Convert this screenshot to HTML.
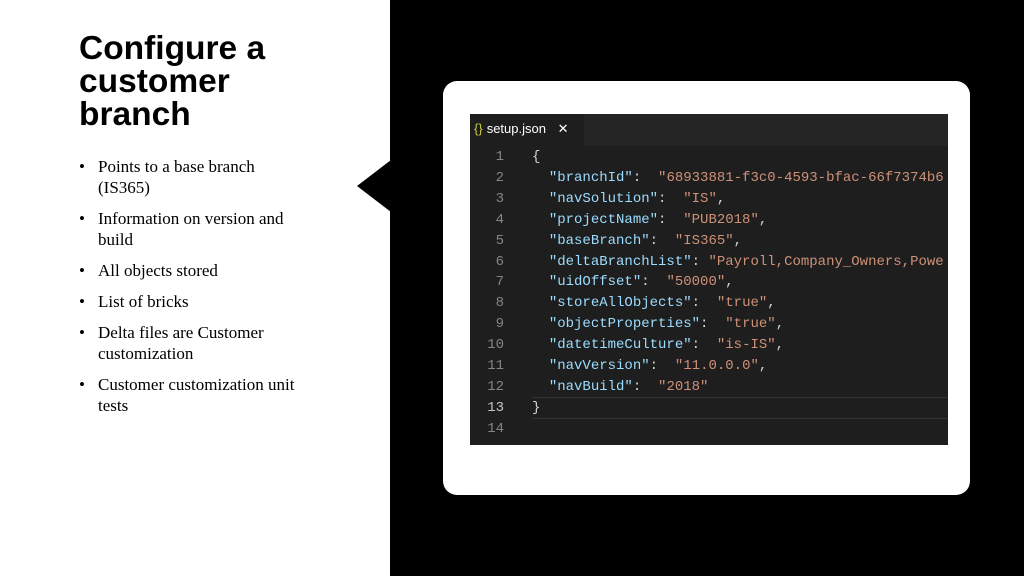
<!DOCTYPE html>
<html><head><meta charset="utf-8"><style>
body{margin:0;width:1024px;height:576px;overflow:hidden;background:#fff;position:relative;font-family:"Liberation Sans",sans-serif}
.black{position:absolute;left:390px;top:0;width:634px;height:576px;background:#000}
.notch{position:absolute;left:357px;top:160px;width:0;height:0;border-top:26px solid transparent;border-bottom:26px solid transparent;border-right:34px solid #000}
h1{position:absolute;left:79px;top:32px;margin:0;font-size:33.5px;line-height:33px;font-weight:bold;color:#000}
ul{position:absolute;left:79px;top:156px;margin:0;padding:0;list-style:none;font-family:"Liberation Serif",serif;font-size:17px;line-height:21px;width:224px}
li{position:relative;padding-left:19px;margin-bottom:10px}
li:before{content:"•";position:absolute;left:0}
.panel{position:absolute;left:443px;top:81px;width:527px;height:414px;background:#fff;border-radius:14px}
.ed{position:absolute;left:470px;top:114px;width:478px;height:331px;background:#1e1e1e;overflow:hidden}
.tabbar{position:absolute;left:0;top:0;width:478px;height:32px;background:#252526}
.tab{position:absolute;left:0;top:0;width:114px;height:32px;background:#1e1e1e;color:#fff;font-size:13px;line-height:30px}
.code{position:absolute;left:0;top:33px;font-family:"Liberation Mono",monospace;font-size:14px;line-height:20.9px;white-space:pre;color:#d4d4d4}
.ln{display:inline-block;width:34px;text-align:right;color:#858585;margin-right:28px}
.k{color:#9cdcfe}.v{color:#ce9178}
.cur{position:absolute;left:62px;top:283px;width:416px;height:20px;border-top:1px solid #333;border-bottom:1px solid #333}
</style></head><body>
<div class="black"></div><div class="notch"></div>
<h1>Configure a<br>customer<br>branch</h1>
<ul>
<li>Points to a base branch (IS365)</li>
<li>Information on version and build</li>
<li>All objects stored</li>
<li>List of bricks</li>
<li>Delta files are Customer customization</li>
<li>Customer customization unit tests</li>
</ul>
<div class="panel"></div>
<div class="ed">
<div class="tabbar"><div class="tab"><span style="color:#cbcb41;margin:0 4px 0 4px">{}</span>setup.json <span style="margin-left:8px">✕</span></div></div>
<div class="cur"></div>
<div class="code"><span class="ln">1</span>{
<span class="ln">2</span>  <span class="k">"branchId"</span>:  <span class="v">"68933881-f3c0-4593-bfac-66f7374b6</span>
<span class="ln">3</span>  <span class="k">"navSolution"</span>:  <span class="v">"IS"</span>,
<span class="ln">4</span>  <span class="k">"projectName"</span>:  <span class="v">"PUB2018"</span>,
<span class="ln">5</span>  <span class="k">"baseBranch"</span>:  <span class="v">"IS365"</span>,
<span class="ln">6</span>  <span class="k">"deltaBranchList"</span>: <span class="v">"Payroll,Company_Owners,Powe</span>
<span class="ln">7</span>  <span class="k">"uidOffset"</span>:  <span class="v">"50000"</span>,
<span class="ln">8</span>  <span class="k">"storeAllObjects"</span>:  <span class="v">"true"</span>,
<span class="ln">9</span>  <span class="k">"objectProperties"</span>:  <span class="v">"true"</span>,
<span class="ln">10</span>  <span class="k">"datetimeCulture"</span>:  <span class="v">"is-IS"</span>,
<span class="ln">11</span>  <span class="k">"navVersion"</span>:  <span class="v">"11.0.0.0"</span>,
<span class="ln">12</span>  <span class="k">"navBuild"</span>:  <span class="v">"2018"</span>
<span class="ln" style="color:#c6c6c6">13</span>}
<span class="ln">14</span></div>
</div>
</body></html>
